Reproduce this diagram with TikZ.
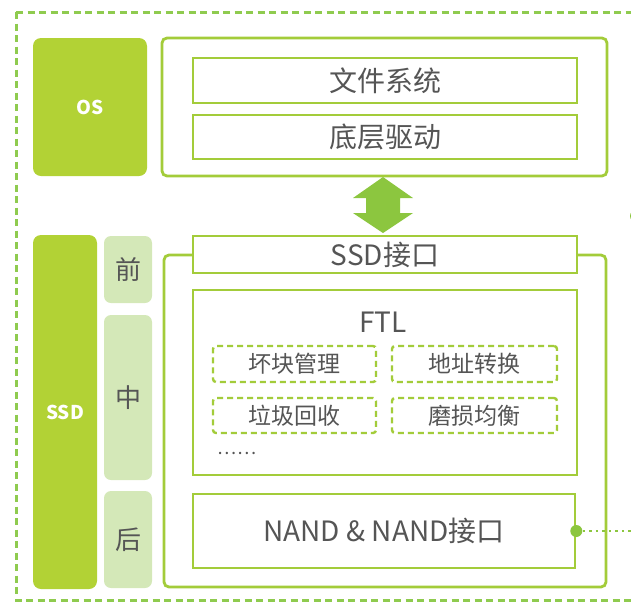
\documentclass[tikz,border=0pt]{standalone}
\usepackage{fontspec}
\setmainfont{Noto Sans CJK SC}
\definecolor{lime}{HTML}{B2D235}
\definecolor{edge}{HTML}{A3CC3A}
\definecolor{arrowg}{HTML}{8CC63F}
\definecolor{dashg}{HTML}{8FCB4F}
\definecolor{pale}{HTML}{D4E8B8}
\definecolor{txt}{HTML}{555555}
\tikzset{
  solidbox/.style={fill=lime, rounded corners=8pt, text=white, font=\bfseries\fontsize{19}{24}\selectfont},
  palebox/.style={fill=pale, rounded corners=7pt, text=txt, font=\fontsize{26}{30}\selectfont},
  container/.style={draw=edge, line width=2.8pt, fill=white, rounded corners=5pt},
  inner/.style={draw=edge, line width=2.6pt, fill=white, text=txt, font=\fontsize{28}{32}\selectfont},
  dashbox/.style={draw=edge, line width=2.4pt, dash pattern=on 6pt off 4pt, rounded corners=3pt, text=txt, font=\fontsize{23}{26}\selectfont},
}
\begin{document}
\begin{tikzpicture}[x=1pt,y=-1pt]
\useasboundingbox (0,0) rectangle (631,603);
% outer dashed frame
\draw[dashg, line width=3pt, dash pattern=on 7pt off 4.5pt] (16,12) -- (660,12);
\draw[dashg, line width=3pt, dash pattern=on 7pt off 4.5pt] (16,12) -- (16,600) -- (660,600);
% OS side
\node[solidbox, minimum width=114pt, minimum height=138pt] (os) at (90,107) {OS};
\node[container, minimum width=445pt, minimum height=138pt] (osc) at (384.5,107) {};
\node[inner, minimum width=384pt, minimum height=45pt] (fs) at (385,80.5) {文件系统};
\node[inner, minimum width=384pt, minimum height=44pt] (drv) at (385,137) {底层驱动};
% SSD side
\node[solidbox, minimum width=64pt, minimum height=354pt] (ssd) at (65,412) {SSD};
\node[palebox, minimum width=48pt, minimum height=67pt] (qian) at (128,269.5) {前};
\node[palebox, minimum width=48pt, minimum height=165pt] (zhong) at (128,397.5) {中};
\node[palebox, minimum width=48pt, minimum height=97pt] (hou) at (128,539.5) {后};
\node[container, minimum width=442pt, minimum height=332pt] (ssdc) at (385,421) {};
\node[inner, minimum width=384pt, minimum height=37pt] (sif) at (385,254.5) {SSD接口};
\node[inner, minimum width=384pt, minimum height=185pt] (ftl) at (385,382.5) {};
\node[text=txt, font=\fontsize{28}{32}\selectfont] (ftlt) at (383,322) {FTL};
\node[dashbox, minimum width=163pt, minimum height=36pt] (bad) at (294.5,364) {坏块管理};
\node[dashbox, minimum width=165pt, minimum height=36pt] (addr) at (474.5,364) {地址转换};
\node[dashbox, minimum width=163pt, minimum height=35pt] (gc) at (294.5,415.5) {垃圾回收};
\node[dashbox, minimum width=165pt, minimum height=35pt] (wl) at (474.5,415.5) {磨损均衡};
\node[text=txt, font=\fontsize{18}{20}\selectfont] (dots) at (237,453) {……};
\node[inner, minimum width=382pt, minimum height=74pt] (nand) at (384,531) {NAND \& NAND接口};
% double arrow between OS and SSD interface
\fill[arrowg] (383,177) -- (413,198) -- (400,198) -- (400,213) -- (413,213) -- (383,233)
  -- (353,213) -- (366,213) -- (366,198) -- (353,198) -- cycle;
% dotted connector leaving NAND
\coordinate (nout) at (640,531);
\draw[arrowg, line width=2.6pt, dash pattern=on 2.5pt off 4pt] (nand.east) -- (nout);
\fill[arrowg] (nand.east) circle (6pt);
% partial dot at right edge
\coordinate (rdot) at (636,216);
\fill[arrowg] (rdot) circle (6pt);
\end{tikzpicture}
\end{document}
